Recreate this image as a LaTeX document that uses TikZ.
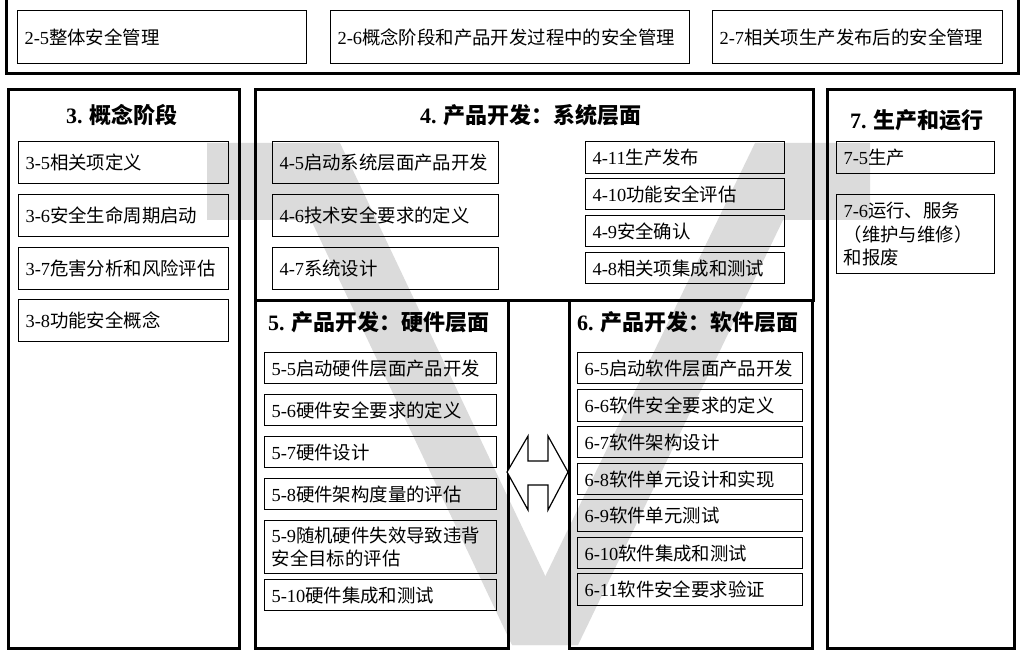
\documentclass[tikz,border=0pt]{standalone}
\usepackage{fontspec}
\setmainfont{Noto Sans CJK SC}
\newfontfamily\numfont{Liberation Serif}
\newcommand\lbl[2]{{\numfont #1}#2}
\newcommand\ttl[2]{{\numfont\bfseries #1 }#2}
\tikzset{
  frame/.style={draw, line width=2.6pt, inner sep=0pt},
  item/.style={draw, line width=1.3pt, inner xsep=7pt, inner ysep=0pt, align=left,
    font=\fontsize{18.4}{23.5}\selectfont},
  title/.style={font=\fontsize{22}{26}\selectfont\bfseries, inner sep=0pt},
  vshape/.style={fill=black!14, draw=none},
  dblarrow/.style={draw, line width=1.2pt, fill=white, line join=miter}
}
\newcommand\bx[6]{%
  \pgfmathsetmacro\bxw{#4-#2}%
  \pgfmathsetmacro\bxh{#5-#3}%
  \pgfmathsetmacro\bxt{#4-#2-14}%
  \node[item, minimum width=\bxw pt, minimum height=\bxh pt, text width=\bxt pt,
    anchor=north west] (#1) at (#2,#3) {#6};}
\newcommand\fr[5]{%
  \pgfmathsetmacro\bxw{#4-#2}%
  \pgfmathsetmacro\bxh{#5-#3}%
  \node[frame, minimum width=\bxw pt, minimum height=\bxh pt,
    anchor=north west] (#1) at (#2,#3) {};}
\begin{document}
\begin{tikzpicture}[x=1pt, y=-1pt]
\useasboundingbox (0,0) rectangle (1025,655);
% background V
\fill[vshape] (207,143) -- (340,143) -- (578,645) -- (512,645) -- (311,220) -- (207,220) -- cycle;
\fill[vshape] (755,143) -- (870,143) -- (870,220) -- (783,220) -- (578,645) -- (512,645) -- cycle;
% top frame
\fr{top}{5}{-10}{1017}{72}
\bx{b25}{17}{10}{306}{63}{\lbl{2-5}{整体安全管理}}
\bx{b26}{330}{10}{689}{63}{\lbl{2-6}{概念阶段和产品开发过程中的安全管理}}
\bx{b27}{712}{10}{1002}{63}{\lbl{2-7}{相关项生产发布后的安全管理}}
% column frames
\fr{c3}{7}{88}{238}{647}
\fr{c4}{254}{88}{812}{299}
\fr{c5}{254}{299}{507}{647}
\fr{c6}{568}{299}{811}{647}
\fr{c7}{826}{88}{1013}{647}
% titles
\node[title] (t3) at (122,115) {\ttl{3.}{概念阶段}};
\node[title] (t4) at (531,115) {\ttl{4.}{产品开发：系统层面}};
\node[title] (t5) at (379,322) {\ttl{5.}{产品开发：硬件层面}};
\node[title] (t6) at (688,322) {\ttl{6.}{产品开发：软件层面}};
\node[title] (t7) at (917,120) {\ttl{7.}{生产和运行}};
% column 3
\bx{b35}{18}{141}{228}{183}{\lbl{3-5}{相关项定义}}
\bx{b36}{18}{194}{228}{236}{\lbl{3-6}{安全生命周期启动}}
\bx{b37}{18}{247}{228}{289}{\lbl{3-7}{危害分析和风险评估}}
\bx{b38}{18}{299}{228}{341}{\lbl{3-8}{功能安全概念}}
% column 4
\bx{b45}{272}{141}{498}{183}{\lbl{4-5}{启动系统层面产品开发}}
\bx{b46}{272}{194}{498}{236}{\lbl{4-6}{技术安全要求的定义}}
\bx{b47}{272}{247}{498}{289}{\lbl{4-7}{系统设计}}
\bx{b411}{585}{141}{784}{173}{\lbl{4-11}{生产发布}}
\bx{b410}{585}{178}{784}{209}{\lbl{4-10}{功能安全评估}}
\bx{b49}{585}{215}{784}{246}{\lbl{4-9}{安全确认}}
\bx{b48}{585}{252}{784}{283}{\lbl{4-8}{相关项集成和测试}}
% column 7
\bx{b75}{836}{141}{994}{173}{\lbl{7-5}{生产}}
\bx{b76}{836}{194}{994}{273}{\lbl{7-6}{运行、服务}\\（维护与维修）\\和报废}
% hardware
\bx{b55}{264}{352}{496}{383}{\lbl{5-5}{启动硬件层面产品开发}}
\bx{b56}{264}{394}{496}{425}{\lbl{5-6}{硬件安全要求的定义}}
\bx{b57}{264}{436}{496}{467}{\lbl{5-7}{硬件设计}}
\bx{b58}{264}{478}{496}{509}{\lbl{5-8}{硬件架构度量的评估}}
\bx{b59}{264}{520}{496}{573}{\lbl{5-9}{随机硬件失效导致违背}\\安全目标的评估}
\bx{b510}{264}{579}{496}{610}{\lbl{5-10}{硬件集成和测试}}
% software
\bx{b65}{577}{352}{802}{383}{\lbl{6-5}{启动软件层面产品开发}}
\bx{b66}{577}{389}{802}{421}{\lbl{6-6}{软件安全要求的定义}}
\bx{b67}{577}{426}{802}{457}{\lbl{6-7}{软件架构设计}}
\bx{b68}{577}{463}{802}{494}{\lbl{6-8}{软件单元设计和实现}}
\bx{b69}{577}{499}{802}{531}{\lbl{6-9}{软件单元测试}}
\bx{b610}{577}{537}{802}{568}{\lbl{6-10}{软件集成和测试}}
\bx{b611}{577}{573}{802}{605}{\lbl{6-11}{软件安全要求验证}}
% double arrow between hardware and software
\draw[dblarrow] (507,472) -- (528,436) -- (528,461) -- (548,461) -- (548,436) -- (568,472)
  -- (548,510) -- (548,485) -- (528,485) -- (528,510) -- cycle;
\end{tikzpicture}
\end{document}
